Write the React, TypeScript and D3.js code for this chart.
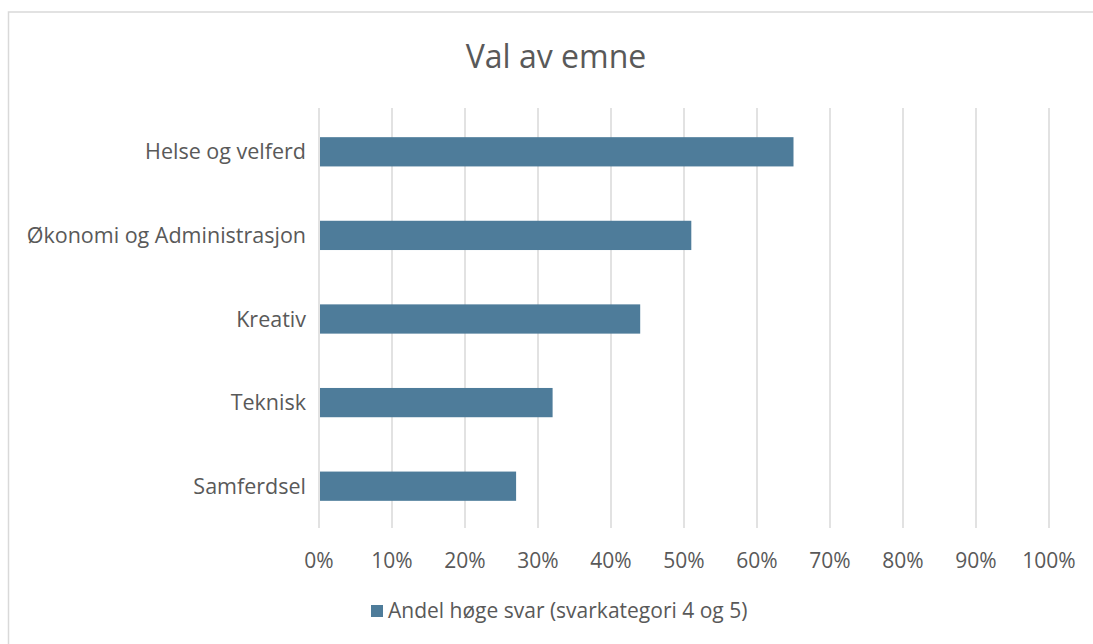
import { useEffect, useRef } from "react";
import * as d3 from "d3";

const categories = [
  "Helse og velferd",
  "Økonomi og Administrasjon",
  "Kreativ",
  "Teknisk",
  "Samferdsel",
];
const shares = [0.65, 0.51, 0.44, 0.32, 0.27];
const xTicks = [0, 0.1, 0.2, 0.3, 0.4, 0.5, 0.6, 0.7, 0.8, 0.9, 1.0];
const legendLabel = "Andel høge svar (svarkategori 4 og 5)";
const chartTitle = "Val av emne";

const FONT = "'Open Sans', 'Noto Sans', sans-serif";
const TEXT = "#595959";
const BAR = "#4e7c9a";

export default function App() {
  const svgRef = useRef<SVGSVGElement>(null);
  const width = 1093;
  const height = 644;

  useEffect(() => {
    if (!svgRef.current) return;
    const svg = d3.select(svgRef.current);
    svg.selectAll("*").remove();

    svg.append("rect").attr("width", width).attr("height", height).attr("fill", "#fff");

    // chart frame, cut off at the right and bottom
    svg.append("rect")
      .attr("x", 8.5)
      .attr("y", 12)
      .attr("width", 1200)
      .attr("height", 800)
      .attr("fill", "none")
      .attr("stroke", "#d9d9d9")
      .attr("stroke-width", 1.5);

    const left = 319;
    const right = 1049;
    const top = 110;
    const bottom = 528;

    const x = d3.scaleLinear().domain([0, 1]).range([left, right]);
    const y = d3
      .scaleBand()
      .domain(categories)
      .range([top, bottom])
      .paddingInner(0.65)
      .paddingOuter(0.325);

    // gridlines
    svg.append("g")
      .selectAll("line")
      .data(xTicks)
      .enter()
      .append("line")
      .attr("x1", (d) => x(d))
      .attr("x2", (d) => x(d))
      .attr("y1", top - 2)
      .attr("y2", bottom)
      .attr("stroke", "#d9d9d9")
      .attr("stroke-width", 1.5);

    // bars
    svg.append("g")
      .selectAll("rect")
      .data(categories)
      .enter()
      .append("rect")
      .attr("x", x(0) + 1)
      .attr("y", (d) => y(d) ?? 0)
      .attr("width", (_, i) => x(shares[i]) - x(0) - 1)
      .attr("height", y.bandwidth())
      .attr("fill", BAR);

    // category labels
    svg.append("g")
      .selectAll("text")
      .data(categories)
      .enter()
      .append("text")
      .attr("x", left - 13)
      .attr("y", (d) => (y(d) ?? 0) + y.bandwidth() / 2)
      .attr("dy", "0.35em")
      .attr("text-anchor", "end")
      .attr("font-family", FONT)
      .attr("font-size", 21.5)
      .attr("fill", TEXT)
      .text((d) => d);

    // x tick labels
    svg.append("g")
      .selectAll("text")
      .data(xTicks)
      .enter()
      .append("text")
      .attr("x", (d) => x(d))
      .attr("y", 568)
      .attr("text-anchor", "middle")
      .attr("font-family", FONT)
      .attr("font-size", 21)
      .attr("fill", TEXT)
      .text((d) => d3.format(".0%")(d));

    // title
    svg.append("text")
      .attr("x", 556)
      .attr("y", 68)
      .attr("text-anchor", "middle")
      .attr("font-family", FONT)
      .attr("font-size", 32)
      .attr("fill", TEXT)
      .text(chartTitle);

    // legend
    svg.append("rect")
      .attr("x", 371)
      .attr("y", 605)
      .attr("width", 12)
      .attr("height", 12)
      .attr("fill", BAR);
    svg.append("text")
      .attr("x", 388)
      .attr("y", 618)
      .attr("font-family", FONT)
      .attr("font-size", 21)
      .attr("fill", TEXT)
      .text(legendLabel);
  }, []);

  return (
    <svg
      ref={svgRef}
      width={width}
      height={height}
      style={{ position: "absolute", left: 0, top: 0, display: "block" }}
    />
  );
}
